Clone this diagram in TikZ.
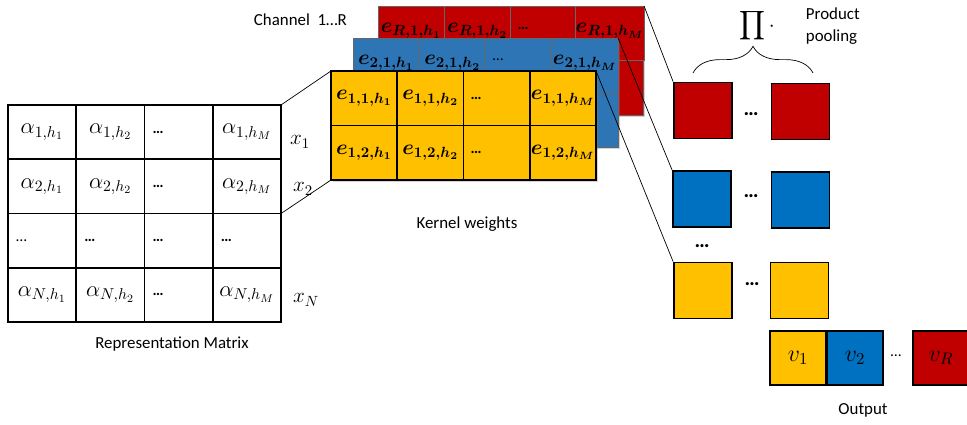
\RequirePackage{fix-cm}
\documentclass[tikz,border=0pt]{standalone}
\usepackage{amsmath}
\usepackage{bm}
\usepackage{fontspec}
\setmainfont{Carlito}
\usetikzlibrary{positioning,decorations.pathreplacing,shadows}

\definecolor{kred}{RGB}{192,0,0}
\definecolor{kblue}{RGB}{46,117,182}
\definecolor{pblue}{RGB}{0,112,192}
\definecolor{kyellow}{RGB}{255,192,0}

\newcommand\lift[1]{\raisebox{7.5pt}{#1}}

\tikzset{
  cell/.style={draw, line width=1.3pt, minimum width=1.706cm, minimum height=1.356cm, inner sep=0pt, outer sep=0pt, font=\fontsize{16}{18}\selectfont},
  dotcell/.style={cell, text width=1.3cm, align=left, font=\bfseries\fontsize{11}{12}\selectfont},
  kcell/.style={draw, minimum width=1.656cm, minimum height=1.3625cm, inner sep=0pt, outer sep=0pt, font=\fontsize{15}{17}\selectfont},
  kdot/.style={kcell, text width=1.3cm, align=left, font=\bfseries\fontsize{11}{12}\selectfont},
  sheet/.style={minimum width=6.625cm, minimum height=2.725cm, inner sep=0pt, outer sep=0pt, drop shadow={opacity=.35, shadow xshift=1.5pt, shadow yshift=-1.5pt}},
  pool/.style={draw, line width=1.3pt, minimum width=1.45cm, minimum height=1.4cm, inner sep=0pt},
  outbox/.style={draw, line width=1.3pt, minimum width=1.4cm, minimum height=1.35cm, inner sep=0pt, font=\fontsize{17}{19}\selectfont},
  bigdots/.style={font=\bfseries\fontsize{15}{16}\selectfont},
  caption/.style={font=\fontsize{12}{14}\selectfont},
}

\begin{document}
\begin{tikzpicture}[x=0.025cm, y=-0.025cm]

\useasboundingbox (0,0) rectangle (967,425);

% Representation matrix
\path
(42.1,132.1)  node[cell] (a11) {$\alpha_{1,h_1}$}
(110.4,132.1) node[cell] (a12) {$\alpha_{1,h_2}$}
(178.6,132.1) node[dotcell] (a13) {…}
(246.9,132.1) node[cell] (a14) {$\alpha_{1,h_M}$}
(42.1,186.4)  node[cell] (a21) {$\alpha_{2,h_1}$}
(110.4,186.4) node[cell] (a22) {$\alpha_{2,h_2}$}
(178.6,186.4) node[dotcell] (a23) {…}
(246.9,186.4) node[cell] (a24) {$\alpha_{2,h_M}$}
(42.1,240.6)  node[dotcell, font=\fontsize{11}{12}\selectfont] (a31) {…}
(110.4,240.6) node[dotcell] (a32) {…}
(178.6,240.6) node[dotcell] (a33) {…}
(246.9,240.6) node[dotcell] (a34) {…}
(42.1,294.9)  node[cell] (a41) {$\alpha_{N,h_1}$}
(110.4,294.9) node[cell] (a42) {$\alpha_{N,h_2}$}
(178.6,294.9) node[dotcell] (a43) {…}
(246.9,294.9) node[cell] (a44) {$\alpha_{N,h_M}$}
;
\node[font=\fontsize{15}{17}\selectfont] (x1) at (300,142) {$x_1$};
\node[font=\fontsize{15}{17}\selectfont] (x2) at (303,189) {$x_2$};
\node[font=\fontsize{15}{17}\selectfont] (xN) at (306,300) {$x_N$};
\node[caption] (repr) at (172,344) {Representation Matrix};

% Kernel weights, channel R
\node[sheet, fill=kred] (rsheet) at (510.5,60.5) {};
\path
(411.1,33.25) node[kcell, fill=kred, draw=black!60] (r11) {\lift{$\bm{e_{R,1,h_1}}$}}
(477.4,33.25) node[kcell, fill=kred, draw=black!60] (r12) {\lift{$\bm{e_{R,1,h_2}}$}}
(543.6,33.25) node[kdot, fill=kred, draw=black!60] (r13) {\lift{…}}
(609.9,33.25) node[kcell, fill=kred, draw=black!60] (r14) {\lift{$\bm{e_{R,1,h_M}}$}}
(411.1,87.75) node[kcell, fill=kred, draw=black!60] (r21) {}
(477.4,87.75) node[kcell, fill=kred, draw=black!60] (r22) {}
(543.6,87.75) node[kcell, fill=kred, draw=black!60] (r23) {}
(609.9,87.75) node[kcell, fill=kred, draw=black!60] (r24) {}
;

% channel 2
\node[sheet, fill=kblue] (bsheet) at (485.5,92.5) {};
\path
(386.1,65.25)  node[kcell, fill=kblue, draw=black!60] (b11) {\lift{$\bm{e_{2,1,h_1}}$}}
(452.4,65.25)  node[kcell, fill=kblue, draw=black!60] (b12) {\lift{$\bm{e_{2,1,h_2}}$}}
(518.6,65.25)  node[kdot, fill=kblue, draw=black!60, font=\fontsize{11}{12}\selectfont] (b13) {\lift{…}}
(584.9,65.25)  node[kcell, fill=kblue, draw=black!60] (b14) {\lift{$\bm{e_{2,1,h_M}}$}}
(386.1,119.75) node[kcell, fill=kblue, draw=black!60] (b21) {}
(452.4,119.75) node[kcell, fill=kblue, draw=black!60] (b22) {}
(518.6,119.75) node[kcell, fill=kblue, draw=black!60] (b23) {}
(584.9,119.75) node[kcell, fill=kblue, draw=black!60] (b24) {}
;

% channel 1
\node[sheet, fill=kyellow] (ysheet) at (463.5,125.5) {};
\path
(364.1,98.25)  node[kcell, fill=kyellow, line width=1.3pt] (y11) {$\bm{e_{1,1,h_1}}$}
(430.4,98.25)  node[kcell, fill=kyellow, line width=1.3pt] (y12) {$\bm{e_{1,1,h_2}}$}
(496.6,98.25)  node[kdot, fill=kyellow, line width=1.3pt] (y13) {…}
(562.9,98.25)  node[kcell, fill=kyellow, line width=1.3pt] (y14) {$\bm{e_{1,1,h_M}}$}
(364.1,152.75) node[kcell, fill=kyellow, line width=1.3pt] (y21) {$\bm{e_{1,2,h_1}}$}
(430.4,152.75) node[kcell, fill=kyellow, line width=1.3pt] (y22) {$\bm{e_{1,2,h_2}}$}
(496.6,152.75) node[kdot, fill=kyellow, line width=1.3pt] (y23) {…}
(562.9,152.75) node[kcell, fill=kyellow, line width=1.3pt] (y24) {$\bm{e_{1,2,h_M}}$}
;
\node[caption, anchor=west] (chan) at (249,20) {Channel\ \ 1…R};
\node[caption] (kw) at (467,224) {Kernel weights};

% Product pooling
\path
(703,110.5)   node[pool, fill=kred] (pr1) {}
(800.5,111.5) node[pool, fill=kred] (pr2) {}
(702,199)     node[pool, fill=pblue] (pb1) {}
(800.5,200)   node[pool, fill=pblue] (pb2) {}
(703,290.5)   node[pool, fill=kyellow] (py1) {}
(799.5,290.5) node[pool, fill=kyellow] (py2) {}
(751,114)     node[bigdots] (dr) {…}
(751,196)     node[bigdots] (db) {…}
(752,284)     node[bigdots] (dy) {…}
(702,246)     node[bigdots] (dv) {…}
;
\coordinate (bl) at (693,73);
\coordinate (br) at (813,73);
\draw[decorate, decoration={brace, amplitude=19pt}, line width=0.5pt] (bl)--(br);
\node[font=\fontsize{15}{17}\selectfont, inner sep=0pt] (prod) at (757,26) {$\displaystyle\prod\cdot$};
\node[caption, anchor=west, align=left, font=\fontsize{12}{15.5}\selectfont] (pp) at (801,26) {Product\\pooling};

% Output
\path
(798,358) node[outbox, fill=kyellow] (v1) {$v_1$}
(855,358) node[outbox, fill=pblue] (v2) {$v_2$}
(896,356) node[font=\fontsize{11}{12}\selectfont] (dout) {…}
(941,358) node[outbox, fill=kred] (vR) {$v_R$}
;
\node[caption] (outl) at (863,410) {Output};

% connectors
\draw[line width=0.5pt] (a14.north east)--(y11.north west);
\draw[line width=0.5pt] (a24.south east)--(y21.south west);
\draw[line width=0.5pt] (r14.north east)--(pr1.north west);
\draw[line width=0.5pt] (b14.north east)--(pb1.north west);
\draw[line width=0.5pt] (y14.north east)--(py1.north west);

\end{tikzpicture}
\end{document}
